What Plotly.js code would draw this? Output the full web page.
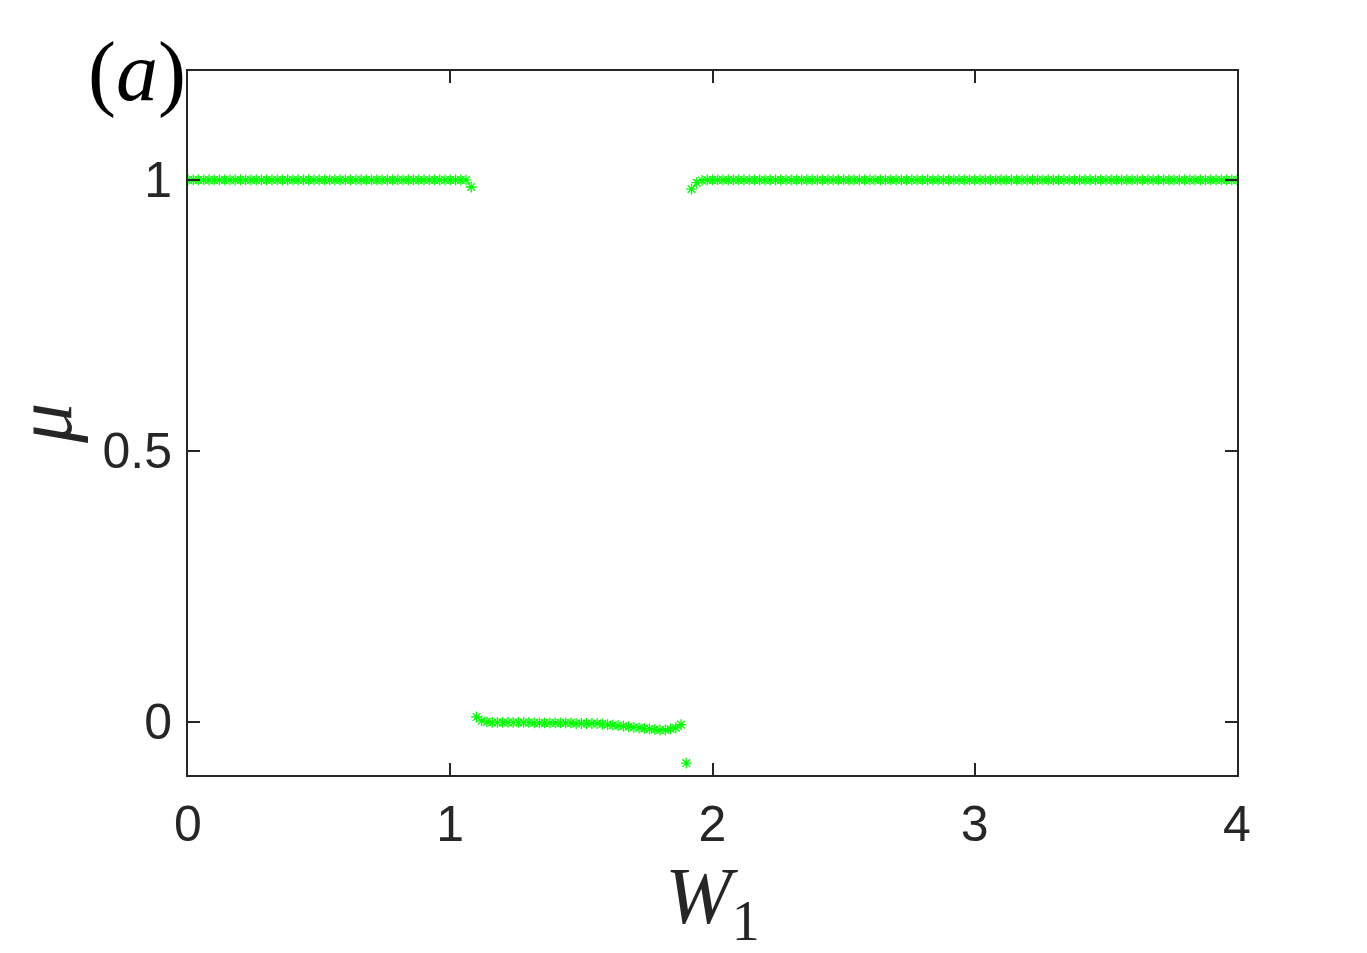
<!DOCTYPE html>
<html>
<head>
<meta charset="utf-8">
<script src="https://cdn.plot.ly/plotly-3.0.1.min.js"></script>
<style>html,body{margin:0;padding:0;background:#fff;}#plot{width:1367px;height:953px;}</style>
</head>
<body>
<div id="plot"></div>
<script>
// W1 sampled every 0.02 from 0 to 4
const stepW = 0.02;
const nPoints = 201;
// mu values
const muLeft = Array(54).fill(1.0);          // W1 = 0 .. 1.06
const muJump1 = [0.987];                      // W1 = 1.08
const muLow = [0.009, 0.002, 0.000, -0.001, -0.001, -0.001, -0.001, -0.001, -0.001, -0.001,
               -0.001, -0.002, -0.002, -0.002, -0.002, -0.002, -0.002, -0.002, -0.002, -0.003,
               -0.003, -0.003, -0.003, -0.003, -0.004, -0.005, -0.006, -0.007, -0.008, -0.009,
               -0.010, -0.011, -0.012, -0.013, -0.014, -0.015, -0.015, -0.013, -0.011, -0.005]; // W1 = 1.10 .. 1.88
const muDrop = [-0.076];                      // W1 = 1.90
const muRise = [0.983, 0.995, 0.999];         // W1 = 1.92 .. 1.96
const muRight = Array(nPoints - 54 - 1 - 40 - 1 - 3).fill(1.0); // W1 = 1.98 .. 4.00

const mu = [].concat(muLeft, muJump1, muLow, muDrop, muRise, muRight);
const W1 = mu.map((_, i) => +(i * stepW).toFixed(2));

const xTicks = [0, 1, 2, 3, 4];
const yTicks = [0, 0.5, 1];
const yTickText = ['0', '0.5', '1'];

const axisColor = '#262626';
const tickFont = {family: 'Liberation Sans, Arial, sans-serif', size: 50, color: axisColor};
const serif = 'Liberation Serif, Times New Roman, serif';

const trace = {
  x: W1, y: mu, type: 'scatter', mode: 'markers',
  marker: {symbol: 'asterisk-open', size: 9, color: '#00ff00', line: {color: '#00ff00', width: 1.3}},
  hoverinfo: 'none'
};

const layout = {
  width: 1367, height: 953,
  margin: {l: 188, r: 130, t: 71, b: 178, pad: 0},
  paper_bgcolor: '#ffffff', plot_bgcolor: '#ffffff',
  showlegend: false,
  xaxis: {
    range: [0, 4], tickvals: xTicks, ticktext: xTicks.map(String),
    showgrid: false, zeroline: false,
    showline: true, linecolor: axisColor, linewidth: 2, mirror: 'ticks',
    ticks: 'inside', ticklen: 12, tickwidth: 2, tickcolor: axisColor,
    tickfont: tickFont, ticklabelstandoff: 4,
    title: {text: '<i>W</i><sub>1</sub>', font: {family: serif, size: 80, color: axisColor}, standoff: 14}
  },
  yaxis: {
    range: [-0.098, 1.201], tickvals: yTicks, ticktext: yTickText,
    showgrid: false, zeroline: false,
    showline: true, linecolor: axisColor, linewidth: 2, mirror: 'ticks',
    ticks: 'inside', ticklen: 12, tickwidth: 2, tickcolor: axisColor,
    tickfont: tickFont, ticklabelstandoff: 4,
    title: {text: '<i>μ</i>', font: {family: serif, size: 80, color: axisColor}, standoff: 14}
  },
  annotations: [{
    text: '(<i>a</i>)', xref: 'paper', yref: 'paper', x: -0.097, y: 0.998,
    xanchor: 'left', yanchor: 'middle', showarrow: false,
    font: {family: serif, size: 84, color: '#000000'}
  }]
};

Plotly.newPlot('plot', [trace], layout, {staticPlot: true, displayModeBar: false});
</script>
</body>
</html>
